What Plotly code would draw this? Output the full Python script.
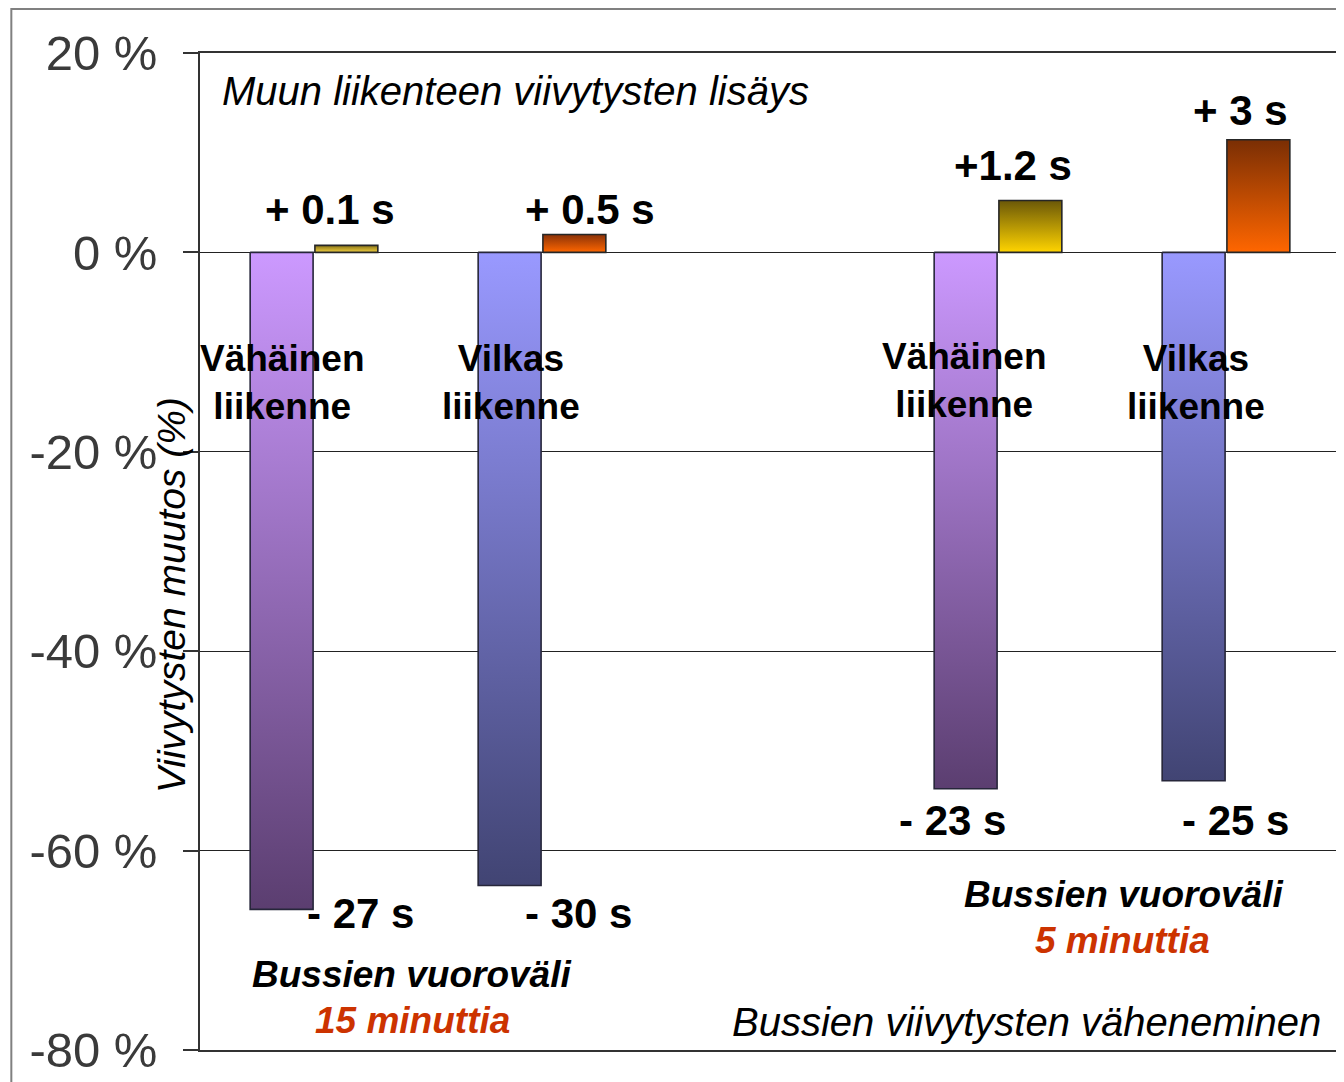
import plotly.graph_objects as go

# ---------------- data ----------------
categories = ["Vähäinen<br>liikenne", "Vilkas<br>liikenne", "Vähäinen<br>liikenne", "Vilkas<br>liikenne"]
bus_change = [-65.9, -63.5, -53.8, -53.0]          # Bussien viivytysten muutos (%)
other_change = [0.7, 1.8, 5.2, 11.3]              # Muun liikenteen viivytysten muutos (%)
bus_labels = ["- 27 s", "- 30 s", "- 23 s", "- 25 s"]
other_labels = ["+ 0.1 s", "+ 0.5 s", "+1.2 s", "+ 3 s"]
headway_title = "Bussien vuoroväli"
headway_labels = ["15 minuttia", "5 minuttia"]
y_ticks = [20, 0, -20, -40, -60, -80]
y_ticktext = ["20 %", "0 %", "-20 %", "-40 %", "-60 %", "-80 %"]

# ---------------- layout / style ----------------
PAGE_W, PAGE_H = 1344, 1082
OFF = 8                      # page body margin
W, H = PAGE_W - OFF, PAGE_H - OFF
L, R, T, B = 200, 1342, 53, 1050   # plot area in page pixels
positions = [0, 1, 3, 4]
bar_w = 0.28
gap = 0.004
bus_colors = [("#5B3E70", "#CC99FF"), ("#414473", "#9999FF"),
              ("#5B3E70", "#CC99FF"), ("#414473", "#9999FF")]
other_colors = [("#F2D040", "#8A7418"), ("#FF6600", "#8A3208"),
                ("#FFD400", "#6B5808"), ("#FF6600", "#7A2E04")]
FONT = "Liberation Sans, Arial, sans-serif"


def pxx(xp):
    return (xp - L) / (R - L)


def pxy(yp):
    return (B - yp) / (B - T)


fig = go.Figure()

for i, p in enumerate(positions):
    # bus bar (left of pair)
    x0, x1 = p - bar_w, p - gap
    v = bus_change[i]
    fig.add_trace(go.Scatter(
        x=[x0, x1, x1, x0, x0], y=[0, 0, v, v, 0], mode="lines",
        fill="toself",
        fillgradient=dict(type="vertical",
                          colorscale=[[0, bus_colors[i][0]], [1, bus_colors[i][1]]]),
        line=dict(color="#26263a", width=1.6), showlegend=False, hoverinfo="skip"))
    # other traffic bar (right of pair)
    x0, x1 = p + gap, p + bar_w
    v = other_change[i]
    fig.add_trace(go.Scatter(
        x=[x0, x1, x1, x0, x0], y=[0, 0, v, v, 0], mode="lines",
        fill="toself",
        fillgradient=dict(type="vertical",
                          colorscale=[[0, other_colors[i][0]], [1, other_colors[i][1]]]),
        line=dict(color="#262626", width=1.6), showlegend=False, hoverinfo="skip"))

ann = []


def add_text(text, xp, yp, size, bold=False, italic=False, color="black",
             xanchor="center", angle=0):
    t = text
    if bold:
        t = "<b>" + t + "</b>"
    if italic:
        t = "<i>" + t + "</i>"
    ann.append(dict(text=t, x=pxx(xp), y=pxy(yp), xref="paper", yref="paper",
                    xanchor=xanchor, yanchor="middle", showarrow=False,
                    textangle=angle,
                    font=dict(family=FONT, size=size, color=color)))


# value labels
other_lab_pos = [(330, 209), (591, 209), (1014, 166), (1242, 110)]
bus_lab_pos = [(361, 913), (579, 913), (954, 820), (1237, 820)]
cat_pos = [(283, 382), (512, 382), (966, 380), (1198, 382)]
for i in range(4):
    add_text(other_labels[i], *other_lab_pos[i], 42, bold=True)
    add_text(bus_labels[i], *bus_lab_pos[i], 42, bold=True)
    add_text(categories[i], *cat_pos[i], 37, bold=True)

# headway labels
add_text(headway_title, 412, 974, 37, bold=True, italic=True)
add_text(headway_labels[0], 413, 1020, 37, bold=True, italic=True, color="#CC3300")
add_text(headway_title, 1125, 894, 37, bold=True, italic=True)
add_text(headway_labels[1], 1124, 940, 37, bold=True, italic=True, color="#CC3300")

# section titles
add_text("Muun liikenteen viivytysten lisäys", 220, 91, 40, italic=True, xanchor="left")
add_text("Bussien viivytysten väheneminen", 1325, 1022, 40, italic=True, xanchor="right")

# y axis title (overlapping the axis, as in the original)
add_text("Viivytysten muutos (%)", 171, 595, 39, italic=True, angle=-90)

fig.update_layout(
    width=W, height=H,
    margin=dict(l=L - OFF, r=PAGE_W - R, t=T - OFF, b=PAGE_H - B),
    paper_bgcolor="white", plot_bgcolor="white",
    annotations=ann,
    shapes=[dict(type="rect", xref="paper", yref="paper",
                 x0=pxx(11), x1=pxx(1400), y0=pxy(1120), y1=pxy(9),
                 line=dict(color="#808080", width=2), layer="below")],
    xaxis=dict(range=[-0.5, 4.5], showgrid=False, zeroline=False,
               showticklabels=False, ticks="", showline=True, mirror=True,
               linecolor="#333333", linewidth=1.5),
    yaxis=dict(range=[-80, 20], tickvals=y_ticks, ticktext=y_ticktext,
               showgrid=True, gridcolor="#222222", gridwidth=1.3,
               zeroline=False, ticks="outside", ticklen=15, tickwidth=1.5,
               tickcolor="#333333", showline=True, mirror=True,
               linecolor="#333333", linewidth=1.5, ticklabelstandoff=16,
               tickfont=dict(family=FONT, size=49, color="#3a3a3a")),
    showlegend=False,
)

fig.write_html("out.html")
